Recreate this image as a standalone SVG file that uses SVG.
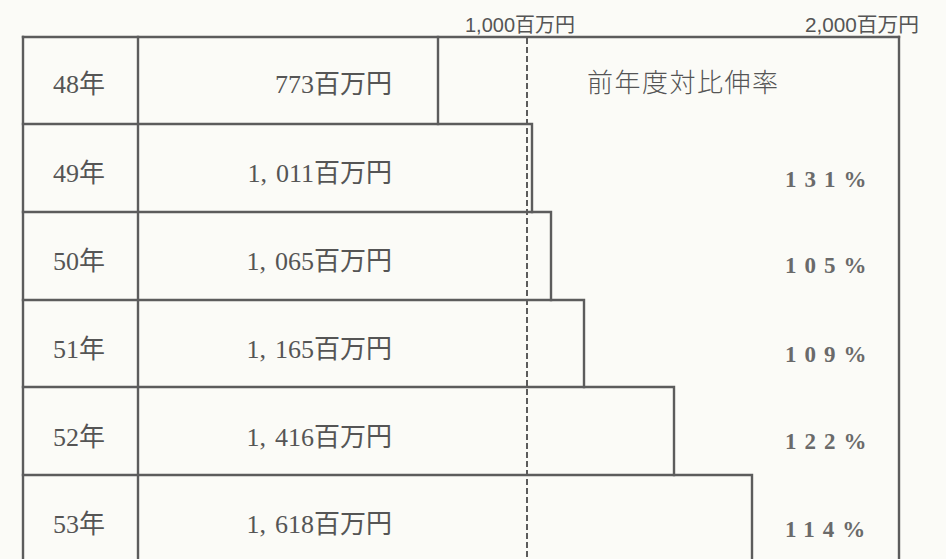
<svg xmlns="http://www.w3.org/2000/svg" width="946" height="559" viewBox="0 0 946 559">
<style>
.ln{fill:none;stroke:#5c5c5c;stroke-width:2.4;stroke-linecap:square}
.dash{fill:none;stroke:#5c5c5c;stroke-width:2;stroke-dasharray:6 3}
.yr,.amt{font-family:"Liberation Serif","Noto Sans CJK JP",serif;font-size:26px;fill:#555}
.amt{text-anchor:end}
.pct{font-family:"Liberation Serif","Noto Sans CJK JP",serif;font-size:23px;font-weight:bold;fill:#6a6a6a;letter-spacing:8px}
.ax{font-family:"Liberation Sans Narrow","Liberation Sans","Noto Sans CJK JP",sans-serif;font-size:20px;fill:#555}
.hd{font-family:"Noto Sans CJK JP",sans-serif;font-size:26px;fill:#555;letter-spacing:1.5px;font-weight:300}
</style>
<rect width="946" height="559" fill="#fbfbf7"/>
<g id="connectors">
<line class="dash" x1="527" y1="38" x2="527" y2="559"/>
<line class="ln" x1="23" y1="37" x2="899" y2="37"/>
<line class="ln" x1="899" y1="37" x2="899" y2="559"/>
<line class="ln" x1="23" y1="37" x2="23" y2="559"/>
<line class="ln" x1="138" y1="37" x2="138" y2="559"/>
</g>
<g id="axis-labels">
<text class="ax" x="465" y="32" textLength="110" lengthAdjust="spacingAndGlyphs">1,000百万円</text>
<text class="ax" x="805" y="32" textLength="114" lengthAdjust="spacingAndGlyphs">2,000百万円</text>
<text class="hd" x="587" y="92">前年度対比伸率</text>
</g>
<g id="row-48">
<polyline class="ln" points="438,37 438,124"/>
<text class="yr" x="53" y="93">48年</text>
<text class="amt" x="392" y="93">773百万円</text>
</g>
<g id="row-49">
<polyline class="ln" points="23,124 532,124 532,212"/>
<text class="yr" x="53" y="182">49年</text>
<text class="amt" x="392" y="182">1,<tspan dx="9">011</tspan>百万円</text>
<text class="pct" x="785" y="187">131%</text>
</g>
<g id="row-50">
<polyline class="ln" points="23,212 551,212 551,300"/>
<text class="yr" x="53" y="270">50年</text>
<text class="amt" x="392" y="270">1,<tspan dx="9">065</tspan>百万円</text>
<text class="pct" x="785" y="273">105%</text>
</g>
<g id="row-51">
<polyline class="ln" points="23,300 584,300 584,387"/>
<text class="yr" x="53" y="358">51年</text>
<text class="amt" x="392" y="358">1,<tspan dx="9">165</tspan>百万円</text>
<text class="pct" x="785" y="362">109%</text>
</g>
<g id="row-52">
<polyline class="ln" points="23,387 674,387 674,475"/>
<text class="yr" x="53" y="446">52年</text>
<text class="amt" x="392" y="446">1,<tspan dx="9">416</tspan>百万円</text>
<text class="pct" x="785" y="449">122%</text>
</g>
<g id="row-53">
<polyline class="ln" points="23,475 752,475 752,559"/>
<text class="yr" x="53" y="533">53年</text>
<text class="amt" x="392" y="533">1,<tspan dx="9">618</tspan>百万円</text>
<text class="pct" x="785" y="537">114%</text>
</g>
</svg>
